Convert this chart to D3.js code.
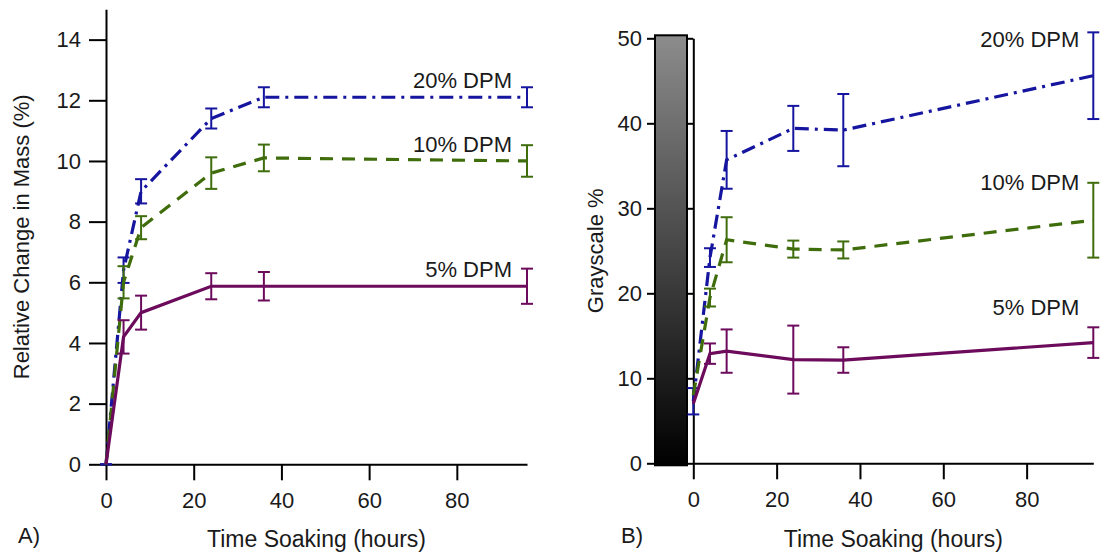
<script src="https://cdn.jsdelivr.net/npm/d3@7"></script>

<style>
body{
  margin:0;
  background:#fff;
}
svg text{
  font-family: "Liberation Sans", Arial, sans-serif;
  fill:#1a1a1a;
}
.axis path, .axis line{
  stroke:#000;
  stroke-width:2px;
}
.axis text{
  font-size:22px;
}
</style>

<div id="chart"></div>

<script>
// soaking times (hours)
const hours = [0, 4, 8, 24, 36, 96];
const seriesNames = ["20% DPM", "10% DPM", "5% DPM"];
const xTicks = [0, 20, 40, 60, 80];

// A) relative change in mass (%)
const mass20 = [0, 6.4, 9.0, 11.4, 12.1, 12.1];
const mass20Err = [0, 0.42, 0.40, 0.33, 0.33, 0.33];
const mass10 = [0, 6.0, 7.8, 9.6, 10.1, 10.0];
const mass10Err = [null, 0.53, 0.38, 0.52, 0.44, 0.52];
const mass5 = [0, 4.2, 5.0, 5.87, 5.87, 5.87];
const mass5Err = [null, 0.55, 0.56, 0.43, 0.47, 0.58];
const massTicks = [0, 2, 4, 6, 8, 10, 12, 14];

// B) grayscale %
const gray20 = [7.3, 24.2, 35.7, 39.4, 39.2, 45.6];
const gray20Err = [1.55, 1.1, 3.4, 2.65, 4.25, 5.1];
const gray10 = [8.0, 19.5, 26.3, 25.2, 25.1, 28.6];
const gray10Err = [null, 1.05, 2.65, 1.0, 1.0, 4.4];
const gray5 = [7.0, 12.9, 13.2, 12.2, 12.15, 14.2];
const gray5Err = [null, 1.2, 2.55, 4.0, 1.5, 1.8];
const grayTicks = [0, 10, 20, 30, 40, 50];

const colors = ["#15159f", "#3f6d0c", "#6c0b5c"];
const dashes = ["14,6,3,6", "13,9", null];

const svg = d3.select("#chart")
  .append("svg")
    .attr("width", 1102)
    .attr("height", 554);

function drawSeries(g, x, y, values, errs, i){
  let pts = hours.map((h, k) => ({h:h, v:values[k], e:errs[k]}));
  g.append("path")
    .datum(pts)
    .attr("fill", "none")
    .attr("stroke", colors[i])
    .attr("stroke-width", 3.2)
    .attr("stroke-dasharray", dashes[i])
    .attr("d", d3.line().x(d => x(d.h)).y(d => y(d.v)));

  let eb = g.append("g").attr("stroke", colors[i]).attr("stroke-width", 2);
  pts.filter(d => d.e !== null).forEach(d => {
    eb.append("line")
      .attr("x1", x(d.h)).attr("x2", x(d.h))
      .attr("y1", y(d.v - d.e)).attr("y2", y(d.v + d.e));
    [d.v - d.e, d.v + d.e].forEach(c => {
      eb.append("line")
        .attr("x1", x(d.h) - 6).attr("x2", x(d.h) + 6)
        .attr("y1", y(c)).attr("y2", y(c));
    });
  });
}

//----- panel A
{
  let x = d3.scaleLinear().domain([0, 96]).range([106, 527]);
  let y = d3.scaleLinear().domain([0, 15]).range([464.3, 9.3]);
  let g = svg.append("g");

  g.append("g")
    .attr("class", "axis")
    .attr("transform", "translate(0," + y(0) + ")")
    .call(d3.axisBottom(x).tickValues(xTicks).tickSize(16).tickPadding(12).tickSizeOuter(0));
  g.append("g")
    .attr("class", "axis")
    .attr("transform", "translate(" + x(0) + ",0)")
    .call(d3.axisLeft(y).tickValues(massTicks).tickSize(17).tickPadding(8).tickSizeOuter(0));

  let sets = [[mass20, mass20Err], [mass10, mass10Err], [mass5, mass5Err]];
  sets.forEach((s, i) => drawSeries(g, x, y, s[0], s[1], i));

  sets.forEach((s, i) => {
    g.append("text")
      .attr("x", x(96) - 15)
      .attr("y", y(s[0][5]) - 9)
      .attr("text-anchor", "end")
      .attr("font-size", 22)
      .text(seriesNames[i]);
  });

  g.append("text")
    .attr("transform", "translate(23," + (y(0) + y(15)) / 2 + ") rotate(-90)")
    .attr("text-anchor", "middle")
    .attr("dominant-baseline", "middle")
    .attr("font-size", 22)
    .text("Relative Change in Mass (%)");
  g.append("text")
    .attr("x", (x(0) + x(96)) / 2)
    .attr("y", 547)
    .attr("text-anchor", "middle")
    .attr("font-size", 23)
    .text("Time Soaking (hours)");
  g.append("text")
    .attr("x", 18)
    .attr("y", 543)
    .attr("font-size", 22)
    .text("A)");
}

//----- panel B
{
  let x = d3.scaleLinear().domain([0, 96]).range([693.3, 1093.3]);
  let y = d3.scaleLinear().domain([0, 50]).range([463.3, 38.3]);
  let g = svg.append("g");

  // grayscale reference bar
  let grad = svg.append("defs").append("linearGradient")
    .attr("id", "grayGrad")
    .attr("x1", 0).attr("y1", 1).attr("x2", 0).attr("y2", 0);
  grad.append("stop").attr("offset", "0%").attr("stop-color", "#000");
  grad.append("stop").attr("offset", "100%").attr("stop-color", "#8c8c8c");
  g.append("rect")
    .attr("x", 655)
    .attr("y", y(50) - 3)
    .attr("width", 32)
    .attr("height", y(0) - y(50) + 5)
    .attr("fill", "url(#grayGrad)")
    .attr("stroke", "#000")
    .attr("stroke-width", 2);

  let left = g.append("g")
    .attr("class", "axis")
    .attr("transform", "translate(655,0)")
    .call(d3.axisLeft(y).tickValues(grayTicks).tickSize(8).tickPadding(5).tickSizeOuter(0));
  left.select(".domain").remove();

  g.append("g")
    .attr("class", "axis")
    .attr("transform", "translate(" + x(0) + ",0)")
    .call(d3.axisLeft(y).tickValues(grayTicks).tickSize(7).tickFormat("").tickSizeOuter(0));
  g.append("g")
    .attr("class", "axis")
    .attr("transform", "translate(0," + y(0) + ")")
    .call(d3.axisBottom(x).tickValues(xTicks).tickSize(16).tickPadding(12).tickSizeOuter(0));

  let sets = [[gray20, gray20Err], [gray10, gray10Err], [gray5, gray5Err]];
  sets.forEach((s, i) => drawSeries(g, x, y, s[0], s[1], i));

  let labelVals = [49.0, 32.2, 17.4];
  labelVals.forEach((v, i) => {
    g.append("text")
      .attr("x", x(96) - 14)
      .attr("y", y(v))
      .attr("text-anchor", "end")
      .attr("font-size", 22)
      .text(seriesNames[i]);
  });

  g.append("text")
    .attr("transform", "translate(597," + (y(0) + y(50)) / 2 + ") rotate(-90)")
    .attr("text-anchor", "middle")
    .attr("dominant-baseline", "middle")
    .attr("font-size", 22)
    .text("Grayscale %");
  g.append("text")
    .attr("x", (x(0) + x(96)) / 2)
    .attr("y", 547)
    .attr("text-anchor", "middle")
    .attr("font-size", 23)
    .text("Time Soaking (hours)");
  g.append("text")
    .attr("x", 621)
    .attr("y", 543)
    .attr("font-size", 22)
    .text("B)");
}
</script>
